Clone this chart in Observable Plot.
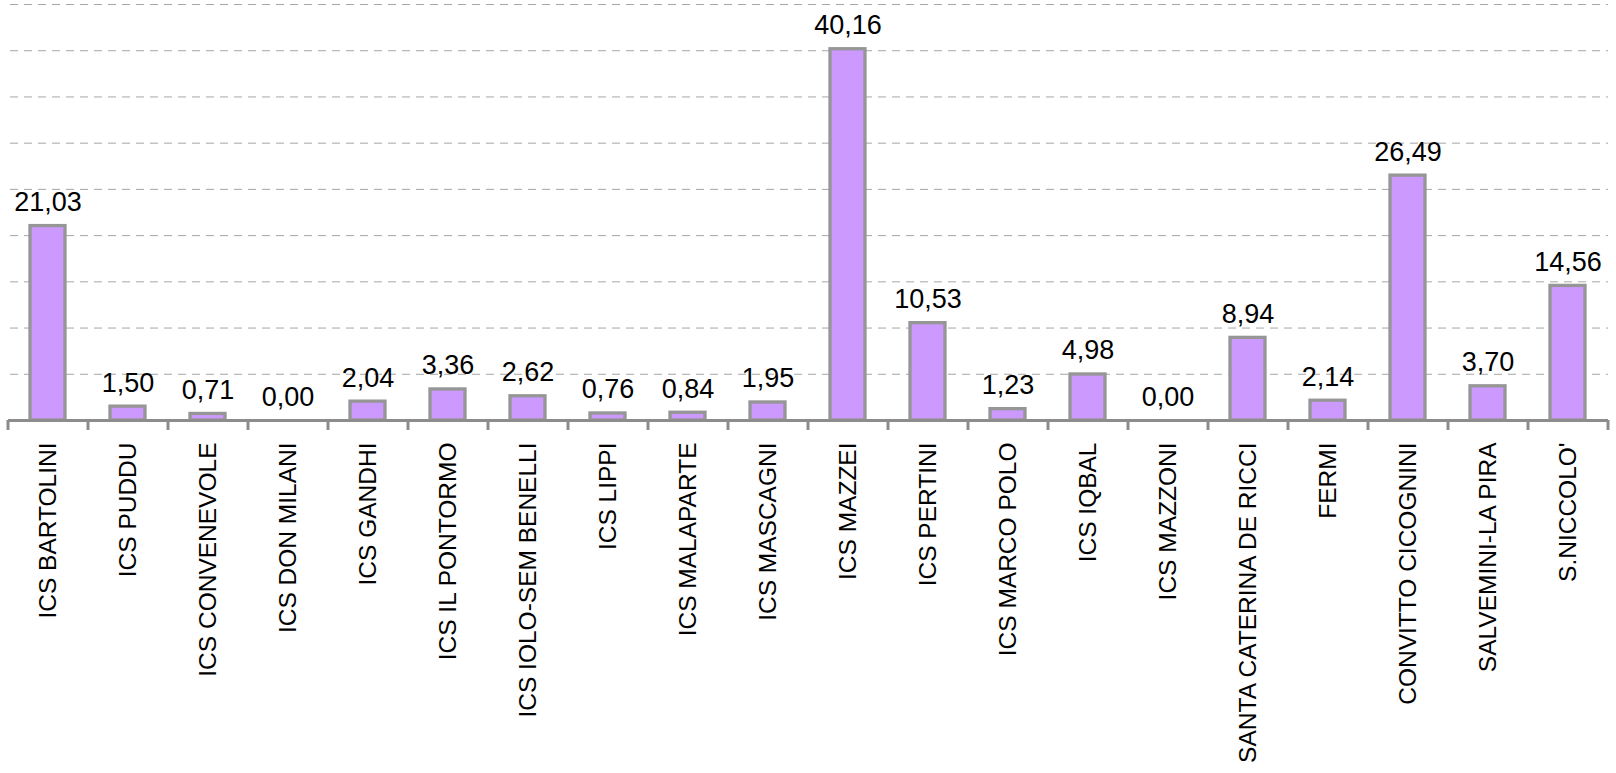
<!DOCTYPE html>
<html>
<head>
<meta charset="utf-8">
<script src="https://cdn.jsdelivr.net/npm/d3@7"></script>
<script src="https://cdn.jsdelivr.net/npm/@observablehq/plot@0.6"></script>
<style>
  html, body { margin: 0; padding: 0; background: #fff; }
  #chart svg { display: block; }
</style>
</head>
<body>
<div id="chart"></div>
<script>
const schools = [
  "ICS BARTOLINI", "ICS PUDDU", "ICS CONVENEVOLE", "ICS DON MILANI", "ICS GANDHI",
  "ICS IL PONTORMO", "ICS IOLO-SEM BENELLI", "ICS LIPPI", "ICS MALAPARTE", "ICS MASCAGNI",
  "ICS MAZZEI", "ICS PERTINI", "ICS MARCO POLO", "ICS IQBAL", "ICS MAZZONI",
  "SANTA CATERINA DE RICCI", "FERMI", "CONVITTO CICOGNINI", "SALVEMINI-LA PIRA", "S.NICCOLO'"
];
const values = [
  21.03, 1.50, 0.71, 0.00, 2.04,
  3.36, 2.62, 0.76, 0.84, 1.95,
  40.16, 10.53, 1.23, 4.98, 0.00,
  8.94, 2.14, 26.49, 3.70, 14.56
];
const gridValues = [5, 10, 15, 20, 25, 30, 35, 40, 45];

const data = schools.map((s, i) => ({school: s, value: values[i]}));
const fmt = v => v.toFixed(2).replace(".", ",");
const font = "'Liberation Sans', Arial, sans-serif";

const chart = Plot.plot({
  width: 1616,
  height: 773,
  marginLeft: 8,
  marginRight: 8,
  marginTop: 4,
  marginBottom: 353,
  style: {fontFamily: font, background: "#fff"},
  x: {domain: schools, paddingInner: 0.56, paddingOuter: 0.28, label: null},
  y: {domain: [0, 45], label: null},
  marks: [
    Plot.ruleY(gridValues, {stroke: "#a6a6a6", strokeWidth: 1, strokeDasharray: "8,6", insetLeft: 2}),
    Plot.barY(data, {x: "school", y: "value", fill: "#cc99ff", stroke: "#969696", strokeWidth: 3.3}),
    Plot.text(data, {x: "school", y: "value", text: d => fmt(d.value), lineAnchor: "bottom", dy: -15, fontSize: 27, fill: "#000"}),
    Plot.ruleY([0], {stroke: "#8c8c8c", strokeWidth: 3}),
    Plot.axisX(schools, {tickSize: 10, tickFormat: () => "", dx: -40, stroke: "#8c8c8c", strokeWidth: 3}),
    Plot.axisX(schools.slice(-1), {tickSize: 10, tickFormat: () => "", dx: 40, stroke: "#8c8c8c", strokeWidth: 3}),
    Plot.axisX(schools, {tickSize: 0, tickPadding: 22, tickRotate: -90, fontSize: 24.5, fill: "#000", label: null}),
    Plot.axisY({ticks: [], label: null, tickSize: 0})
  ]
});
document.getElementById("chart").appendChild(chart);
</script>
</body>
</html>
